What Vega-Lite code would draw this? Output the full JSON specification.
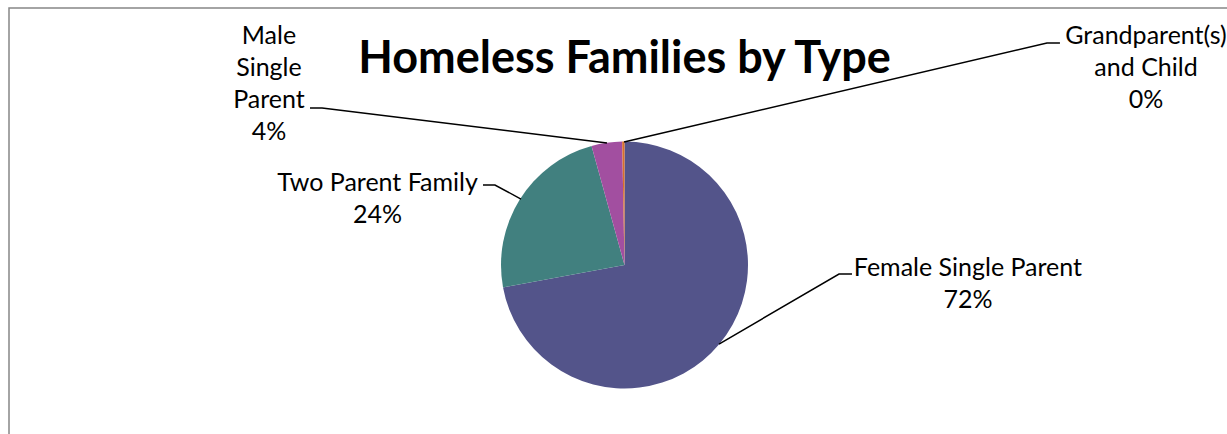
{
  "$schema": "https://vega.github.io/schema/vega-lite/v6.json",
  "width": 1231,
  "height": 514,
  "autosize": {"type": "none"},
  "padding": {"left": 9, "top": 8, "right": 0, "bottom": 0},
  "background": "white",
  "config": {"view": {"stroke": "#878787", "strokeWidth": 1.5}, "font": "Lato"},
  "title": {"text": "Homeless Families by Type", "font": "Lato", "fontSize": 45, "fontWeight": "bold", "color": "#000000", "anchor": "middle", "frame": "group", "baseline": "alphabetic", "offset": 0, "dy": 110},
  "datasets": {
    "slices": [
      {"type": "Female Single Parent", "value": 72.1, "rank": 1},
      {"type": "Two Parent Family", "value": 23.6, "rank": 2},
      {"type": "Male Single Parent", "value": 4.0, "rank": 3},
      {"type": "Grandparent(s) and Child", "value": 0.3, "rank": 4}
    ],
    "labels": [
      {"type": "Female Single Parent", "text": "Female Single Parent\n72%", "x": 2.781, "y": -0.024},
      {"type": "Two Parent Family", "text": "Two Parent Family\n24%", "x": -2.0, "y": 0.664},
      {"type": "Male Single Parent", "text": "Male\nSingle\nParent\n4%", "x": -2.879, "y": 1.854},
      {"type": "Grandparent(s) and Child", "text": "Grandparent(s)\nand Child\n0%", "x": 4.223, "y": 1.854}
    ],
    "leaders": [
      {"type": "Female Single Parent", "seq": 1, "x": 0.765, "y": -0.64},
      {"type": "Female Single Parent", "seq": 2, "x": 1.737, "y": -0.073},
      {"type": "Female Single Parent", "seq": 3, "x": 1.842, "y": -0.073},
      {"type": "Two Parent Family", "seq": 1, "x": -0.838, "y": 0.534},
      {"type": "Two Parent Family", "seq": 2, "x": -1.049, "y": 0.648},
      {"type": "Two Parent Family", "seq": 3, "x": -1.146, "y": 0.648},
      {"type": "Male Single Parent", "seq": 1, "x": -0.142, "y": 0.988},
      {"type": "Male Single Parent", "seq": 2, "x": -2.449, "y": 1.271},
      {"type": "Male Single Parent", "seq": 3, "x": -2.547, "y": 1.271},
      {"type": "Grandparent(s) and Child", "seq": 1, "x": -0.004, "y": 0.996},
      {"type": "Grandparent(s) and Child", "seq": 2, "x": 3.421, "y": 1.798},
      {"type": "Grandparent(s) and Child", "seq": 3, "x": 3.526, "y": 1.798}
    ]
  },
  "layer": [
    {
      "data": {"name": "slices"},
      "mark": {"type": "arc", "outerRadius": 123.5},
      "encoding": {
        "theta": {"field": "value", "type": "quantitative", "stack": true},
        "order": {"field": "rank", "type": "quantitative"},
        "color": {"field": "type", "type": "nominal", "legend": null,
          "scale": {"domain": ["Female Single Parent", "Two Parent Family", "Male Single Parent", "Grandparent(s) and Child"],
                    "range": ["#53548A", "#41807F", "#A24FA0", "#D8702A"]}}
      }
    },
    {
      "data": {"name": "leaders"},
      "mark": {"type": "line", "color": "#000000", "strokeWidth": 1.5},
      "encoding": {
        "x": {"field": "x", "type": "quantitative", "axis": null, "scale": {"domain": [-4.984, 4.984], "nice": false, "zero": false}},
        "y": {"field": "y", "type": "quantitative", "axis": null, "scale": {"domain": [-2.081, 2.081], "nice": false, "zero": false}},
        "detail": {"field": "type", "type": "nominal"},
        "order": {"field": "seq", "type": "quantitative"}
      }
    },
    {
      "data": {"name": "labels"},
      "mark": {"type": "text", "lineBreak": "\n", "fontSize": 25, "lineHeight": 32, "align": "center", "baseline": "middle", "color": "#000000", "font": "Lato"},
      "encoding": {
        "x": {"field": "x", "type": "quantitative", "axis": null, "scale": {"domain": [-4.984, 4.984], "nice": false, "zero": false}},
        "y": {"field": "y", "type": "quantitative", "axis": null, "scale": {"domain": [-2.081, 2.081], "nice": false, "zero": false}},
        "text": {"field": "text", "type": "nominal"}
      }
    }
  ]
}
